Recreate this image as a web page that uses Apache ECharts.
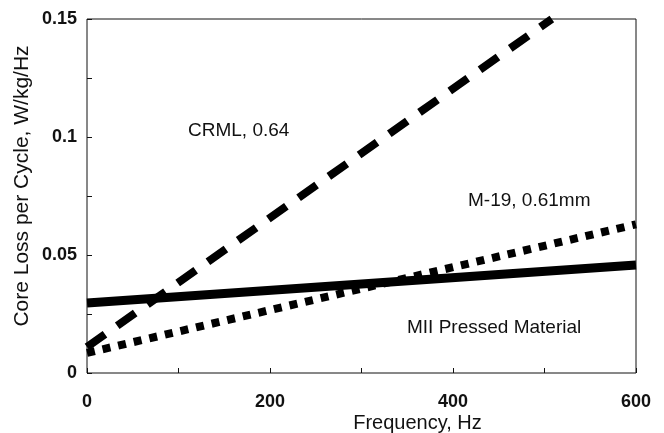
<!DOCTYPE html>
<html>
<head>
<meta charset="utf-8">
<script src="https://cdn.jsdelivr.net/npm/echarts@6/dist/echarts.min.js"></script>
<style>html,body{margin:0;padding:0;background:#fff}#c{width:664px;height:433px}</style>
</head>
<body>
<div id="c"></div>
<script>
// Data
const freq = [0, 600];
const crmlFreq = [0, 508];
const crmlLoss = [0.011, 0.15];
const m19Loss = [0.0085, 0.063];
const miiLoss = [0.0297, 0.0458];
const xTicks = [0, 200, 400, 600];
const yTicks = [0, 0.05, 0.1, 0.15];
const annotations = ['CRML, 0.64', 'M-19, 0.61mm', 'MII Pressed Material'];

const pairs = (xs, ys) => xs.map((x, i) => [x, ys[i]]);
const font = 'Liberation Sans, Arial, Helvetica, sans-serif';

const chart = echarts.init(document.getElementById('c'), null, {renderer: 'canvas'});
chart.setOption({
  animation: false,
  backgroundColor: '#fff',
  grid: {left: 87, right: 28, top: 19, bottom: 60, containLabel: false, outerBoundsMode: 'none',
    show: true, borderColor: '#111', borderWidth: 1, backgroundColor: 'transparent'},
  xAxis: {
    type: 'value', min: 0, max: 600, interval: 100,
    name: 'Frequency, Hz', nameLocation: 'middle', nameGap: 40, nameMoveOverlap: false,
    nameTextStyle: {fontFamily: font, fontSize: 20, color: '#111', padding: [0, 0, 0, 112]},
    axisLine: {show: false},
    axisTick: {show: true, inside: true, length: 5, lineStyle: {color: '#111'}},
    axisLabel: {margin: 20, fontFamily: font, fontSize: 18, fontWeight: 'bold', color: '#111',
      formatter: v => xTicks.includes(v) ? String(v) : ''},
    splitLine: {show: false}
  },
  yAxis: {
    type: 'value', min: 0, max: 0.15, interval: 0.025,
    name: 'Core Loss per Cycle, W/kg/Hz', nameLocation: 'middle', nameGap: 54, nameRotate: 90, nameMoveOverlap: false,
    nameTextStyle: {fontFamily: font, fontSize: 21, color: '#111', padding: [0, 0, 0, 20]},
    axisLine: {show: false},
    axisTick: {show: true, inside: true, length: 5, lineStyle: {color: '#111'}},
    axisLabel: {margin: 10, fontFamily: font, fontSize: 18, fontWeight: 'bold', color: '#111',
      formatter: v => { const r = Math.round(v * 1000) / 1000; return yTicks.some(t => Math.abs(t - r) < 1e-9) ? String(r) : ''; }},
    splitLine: {show: false}
  },
  series: [
    {type: 'line', data: pairs(crmlFreq, crmlLoss), symbol: 'none', clip: true,
      lineStyle: {color: '#000', width: 8, type: [22, 15], cap: 'butt'}},
    {type: 'line', data: pairs(freq, m19Loss), symbol: 'none', clip: true,
      lineStyle: {color: '#000', width: 8, type: [8, 8], cap: 'butt'}},
    {type: 'line', data: pairs(freq, miiLoss), symbol: 'none', clip: true,
      lineStyle: {color: '#000', width: 9, type: 'solid'}}
  ],
  graphic: [
    {type: 'text', left: 188, top: 121, style: {text: annotations[0], font: '19px ' + font, fill: '#111'}},
    {type: 'text', left: 468, top: 191, style: {text: annotations[1], font: '19px ' + font, fill: '#111'}},
    {type: 'text', left: 407, top: 318, style: {text: annotations[2], font: '19px ' + font, fill: '#111'}}
  ]
});
</script>
</body>
</html>
